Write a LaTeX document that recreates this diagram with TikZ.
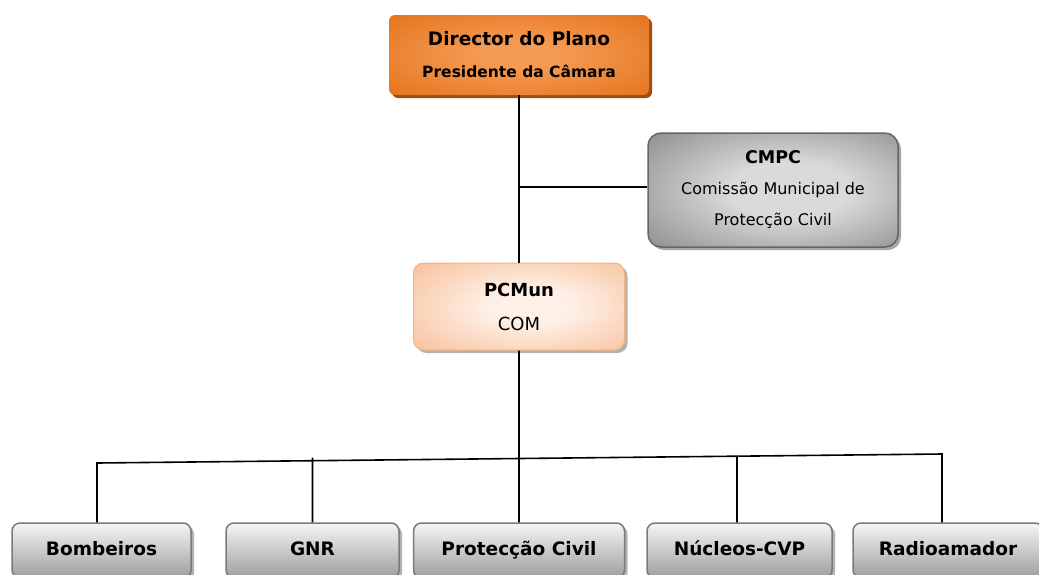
\documentclass[tikz,border=0pt]{standalone}
\usepackage{fontspec}
\setmainfont{DejaVu Sans}
\usetikzlibrary{shadows,calc}
\definecolor{laranjaE}{HTML}{DE660A}
\definecolor{laranjaI}{HTML}{F59A52}
\definecolor{laranjaS}{HTML}{A04C0A}
\definecolor{cinzaE}{HTML}{6E6E6E}
\definecolor{cinzaI}{HTML}{DADADA}
\definecolor{cinzaB}{HTML}{7A7A7A}
\definecolor{pessegoE}{HTML}{F4AE7C}
\definecolor{pessegoI}{HTML}{FEF0E6}
\definecolor{pessegoB}{HTML}{F3B282}
\pgfdeclareradialshading{luzDir}{\pgfpoint{0bp}{0bp}}{color(0bp)=(laranjaI); color(8bp)=(laranjaI); color(46bp)=(laranjaE); color(80bp)=(laranjaE)}
\pgfdeclareradialshading{luzCMPC}{\pgfpoint{4bp}{0bp}}{color(0bp)=(cinzaI); color(12bp)=(cinzaI); color(48bp)=(cinzaE); color(80bp)=(cinzaE)}
\pgfdeclareradialshading{luzPC}{\pgfpoint{3bp}{0bp}}{color(0bp)=(pessegoI); color(10bp)=(pessegoI); color(48bp)=(pessegoE); color(80bp)=(pessegoE)}

\begin{document}
\begin{tikzpicture}[x=1pt,y=-1pt,
		ligacao/.style={line width=1.6pt,black},
		caixa/.style={align=center,inner sep=0pt,text=black},
		director/.style={caixa,rounded corners=6pt,minimum width=260pt,minimum height=80pt,
			shade,shading=luzDir,
			drop shadow={shadow xshift=3pt,shadow yshift=-3pt,fill=laranjaS,opacity=1},
			font=\bfseries\fontsize{15.5}{32}\selectfont},
		comissao/.style={caixa,rounded corners=13pt,minimum width=250pt,minimum height=114pt,
			draw=black!60,line width=1.5pt,shade,shading=luzCMPC,
			drop shadow={shadow xshift=3pt,shadow yshift=-3pt,fill=black!35,opacity=1},
			font=\fontsize{16}{31}\selectfont},
		posto/.style={caixa,rounded corners=10pt,minimum width=211pt,minimum height=87pt,
			draw=pessegoB,line width=1pt,shade,shading=luzPC,
			drop shadow={shadow xshift=3pt,shadow yshift=-3pt,fill=black!30,opacity=1},
			font=\fontsize{18}{34}\selectfont},
		agente/.style={caixa,rounded corners=8pt,minimum height=55pt,
			draw=cinzaB,line width=1.5pt,top color=white!96!black,bottom color=black!38,
			drop shadow={shadow xshift=3pt,shadow yshift=-3pt,fill=black!30,opacity=1},
			text height=14pt,text depth=4pt,font=\bfseries\fontsize{18.5}{22}\selectfont}]
	\useasboundingbox (0,0) rectangle (1039,574);
	\clip (0,0) rectangle (1039,574);
	\pgfmathsetmacro\XM{519}
	\pgfmathsetmacro\YB{550.5}

	\node[director] (Dir) at (\XM,55) {{\fontsize{18.5}{32}\selectfont Director do Plano}\\Presidente da Câmara};
	\node[comissao] (CMPC) at (773,190) {{\bfseries\fontsize{17.5}{31}\selectfont CMPC}\\Comissão Municipal de\\Protecção Civil};
	\node[posto] (PCMun) at (\XM,306.5) {{\bfseries PCMun}\\COM};

	\node[agente,minimum width=179pt] (Bomb) at (101.5,\YB) {Bombeiros};
	\node[agente,minimum width=173pt] (GNR) at (312.5,\YB) {GNR};
	\node[agente,minimum width=211pt] (ProtCiv) at (\XM,\YB) {Protecção Civil};
	\node[agente,minimum width=185pt] (CVP) at (739.5,\YB) {Núcleos-CVP};
	\node[agente,minimum width=190pt] (Radio) at (948,\YB) {Radioamador};

	\coordinate (J) at (\XM,187);
	\coordinate (busL) at (97,463);
	\coordinate (busR) at (942,454);
	\coordinate (BombT) at ([xshift=-4.5pt]Bomb.north);
	\coordinate (GNRT) at (GNR.north);
	\coordinate (ProtCivT) at (ProtCiv.north);
	\coordinate (CVPT) at ([xshift=-2.5pt]CVP.north);
	\coordinate (RadioT) at ([xshift=-6pt]Radio.north);

	\draw[ligacao] (Dir.south) -- (PCMun.north);
	\draw[ligacao] (J) -- (J -| CMPC.west);
	\draw[ligacao] (PCMun.south) -- (intersection cs:first line={(busL)--(busR)},second line={(PCMun.south)--(ProtCivT)});
	\draw[ligacao] (BombT) -- (busL) -- (busR) -- (RadioT);
	\draw[ligacao] (GNRT) -- ([yshift=3pt]intersection cs:first line={(busL)--(busR)},second line={(GNRT)--([yshift=10pt]GNRT)});
	\draw[ligacao] (ProtCivT) -- (intersection cs:first line={(busL)--(busR)},second line={(ProtCivT)--([yshift=10pt]ProtCivT)});
	\draw[ligacao] (CVPT) -- (intersection cs:first line={(busL)--(busR)},second line={(CVPT)--([yshift=10pt]CVPT)});
\end{tikzpicture}
\end{document}
